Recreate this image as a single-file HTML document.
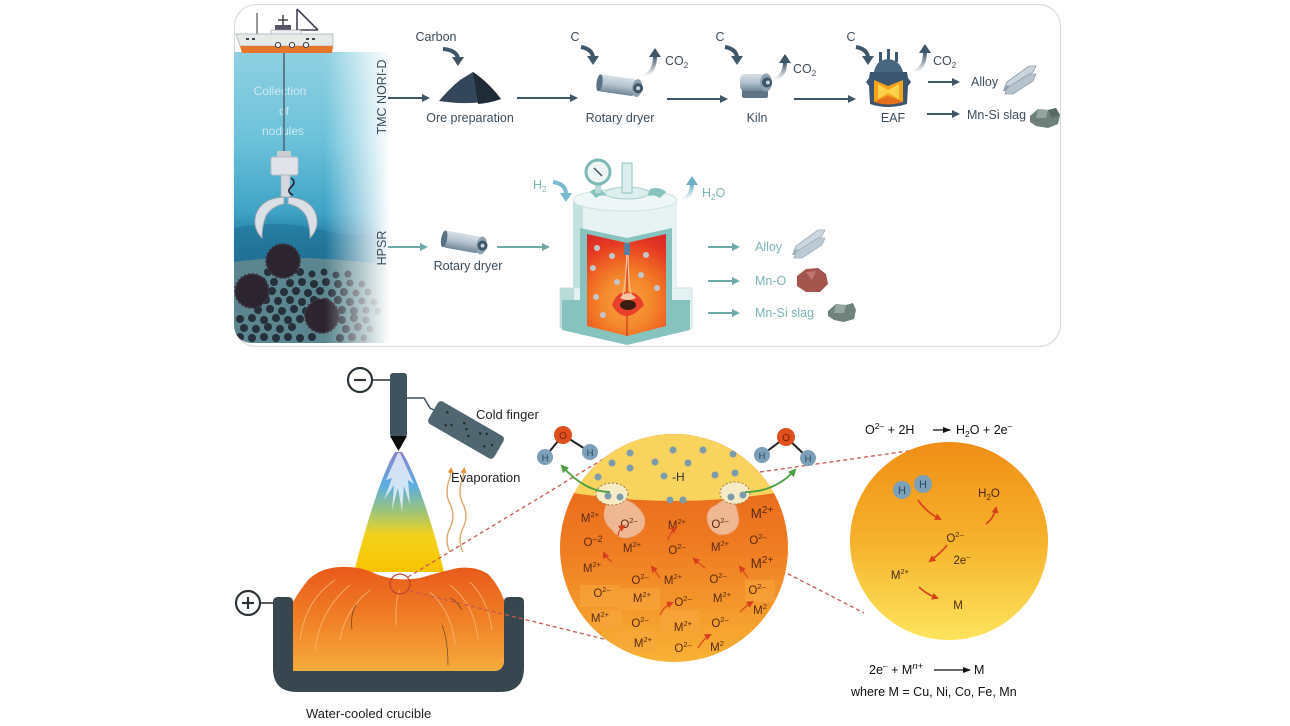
<!DOCTYPE html>
<html><head><meta charset="utf-8">
<style>
html,body{margin:0;padding:0;background:#fff;}
svg{display:block;font-family:"Liberation Sans",Arial,sans-serif;}
</style></head>
<body>
<svg width="1290" height="726" viewBox="0 0 1290 726" xmlns="http://www.w3.org/2000/svg">
<defs>
  <linearGradient id="ocean" x1="0" y1="52" x2="0" y2="343" gradientUnits="userSpaceOnUse">
    <stop offset="0" stop-color="#8fd0e2"/>
    <stop offset="0.3" stop-color="#6cc2da"/>
    <stop offset="0.55" stop-color="#3ea3c6"/>
    <stop offset="0.62" stop-color="#2a86ab"/>
    <stop offset="0.72" stop-color="#226f92"/>
    <stop offset="0.74" stop-color="#557f89"/>
    <stop offset="1" stop-color="#6a939b"/>
  </linearGradient>
  <linearGradient id="fadeR" x1="325" y1="0" x2="390" y2="0" gradientUnits="userSpaceOnUse">
    <stop offset="0" stop-color="#fff" stop-opacity="0"/>
    <stop offset="1" stop-color="#fff" stop-opacity="1"/>
  </linearGradient>
  <clipPath id="oceanClip"><path d="M234 52 H392 V343 H254 Q234 343 234 323 Z"/></clipPath>
  <linearGradient id="plasma" x1="0" y1="452" x2="0" y2="570" gradientUnits="userSpaceOnUse">
    <stop offset="0" stop-color="#8c82c6"/>
    <stop offset="0.28" stop-color="#5aaee2"/>
    <stop offset="0.5" stop-color="#9cc47a"/>
    <stop offset="0.7" stop-color="#f2d21e"/>
    <stop offset="1" stop-color="#f8c400"/>
  </linearGradient>
  <linearGradient id="melt" x1="0" y1="565" x2="0" y2="672" gradientUnits="userSpaceOnUse">
    <stop offset="0" stop-color="#e8581a"/>
    <stop offset="0.5" stop-color="#f07f26"/>
    <stop offset="1" stop-color="#f6ac3c"/>
  </linearGradient>
  <linearGradient id="midG" x1="0" y1="434" x2="0" y2="662" gradientUnits="userSpaceOnUse">
    <stop offset="0" stop-color="#e65e18"/>
    <stop offset="0.5" stop-color="#ef7c22"/>
    <stop offset="1" stop-color="#f8b234"/>
  </linearGradient>
  <linearGradient id="rightG" x1="0" y1="442" x2="0" y2="640" gradientUnits="userSpaceOnUse">
    <stop offset="0" stop-color="#f08e16"/>
    <stop offset="0.5" stop-color="#f6b22c"/>
    <stop offset="1" stop-color="#fde45c"/>
  </linearGradient>
  <clipPath id="midClip"><circle cx="674" cy="548" r="114"/></clipPath>
  <radialGradient id="core" cx="627" cy="302" r="80" gradientUnits="userSpaceOnUse">
    <stop offset="0" stop-color="#f8a040"/>
    <stop offset="0.3" stop-color="#f48a2c"/>
    <stop offset="0.5" stop-color="#f06a24"/>
    <stop offset="0.75" stop-color="#e63a22"/>
    <stop offset="1" stop-color="#d42228"/>
  </radialGradient>
  <linearGradient id="cylT" x1="0" y1="0" x2="0" y2="1">
    <stop offset="0" stop-color="#d6dfe6"/>
    <stop offset="0.5" stop-color="#b3c2ce"/>
    <stop offset="1" stop-color="#6f8596"/>
  </linearGradient>
  <linearGradient id="upFade" x1="0" y1="1" x2="0" y2="0">
    <stop offset="0" stop-color="#3e5668" stop-opacity="0"/>
    <stop offset="1" stop-color="#3e5668"/>
  </linearGradient>
  <linearGradient id="upFadeT" x1="0" y1="1" x2="0" y2="0">
    <stop offset="0" stop-color="#6fb0c4" stop-opacity="0"/>
    <stop offset="1" stop-color="#6fb0c4"/>
  </linearGradient>
  <marker id="ahD" markerWidth="8" markerHeight="8" refX="6" refY="4" orient="auto" markerUnits="userSpaceOnUse">
    <path d="M0 0 L8 4 L0 8 Z" fill="#3e5668"/>
  </marker>
  <marker id="ahT" markerWidth="8" markerHeight="8" refX="6" refY="4" orient="auto" markerUnits="userSpaceOnUse">
    <path d="M0 0 L8 4 L0 8 Z" fill="#6eaaa8"/>
  </marker>
  <marker id="ahR" markerWidth="7" markerHeight="7" refX="5" refY="3.5" orient="auto" markerUnits="userSpaceOnUse">
    <path d="M0 0 L7 3.5 L0 7 Z" fill="#d8401c"/>
  </marker>
  <marker id="ahG" markerWidth="8" markerHeight="8" refX="6" refY="4" orient="auto" markerUnits="userSpaceOnUse">
    <path d="M0 0 L8 4 L0 8 Z" fill="#4aa040"/>
  </marker>
  <marker id="ahK" markerWidth="8" markerHeight="8" refX="7" refY="4" orient="auto" markerUnits="userSpaceOnUse">
    <path d="M0 1 L8 4 L0 7 Z" fill="#111"/>
  </marker>
  <marker id="ahO" markerWidth="6" markerHeight="6" refX="3" refY="3" orient="auto" markerUnits="userSpaceOnUse">
    <path d="M0 0 L6 3 L0 6 Z" fill="#e09030"/>
  </marker>
</defs>

<!-- TOP PANEL -->
<rect x="234.5" y="4.5" width="826" height="342" rx="22" fill="#fff" stroke="#dcdcdc" stroke-width="1.2"/>

<!-- Ocean -->
<g clip-path="url(#oceanClip)">
  <rect x="234" y="52" width="160" height="292" fill="url(#ocean)"/>
  <path d="M234 228 Q280 218 330 232 Q360 238 392 232 V262 H234 Z" fill="#1f7196" opacity="0.55"/>
  <path d="M234 262 Q300 252 392 266 V344 H234 Z" fill="#5b868f"/>
  <g fill="#26303a">
    <circle cx="268" cy="272" r="4"/><circle cx="300" cy="272" r="4"/><circle cx="312" cy="274" r="3.5"/><circle cx="324" cy="272" r="3.5"/><circle cx="336" cy="275" r="3.5"/><circle cx="348" cy="274" r="3.5"/>
    <circle cx="262" cy="281" r="4"/><circle cx="274" cy="282" r="4"/><circle cx="290" cy="283" r="4"/><circle cx="302" cy="282" r="4"/><circle cx="314" cy="284" r="4"/><circle cx="326" cy="282" r="4"/><circle cx="338" cy="284" r="4"/><circle cx="350" cy="283" r="3.5"/><circle cx="362" cy="284" r="3.5"/>
    <circle cx="272" cy="291" r="4"/><circle cx="284" cy="292" r="4"/><circle cx="296" cy="291" r="4"/><circle cx="308" cy="293" r="4"/><circle cx="320" cy="291" r="4"/><circle cx="332" cy="293" r="4"/><circle cx="344" cy="292" r="4"/><circle cx="356" cy="293" r="3.5"/><circle cx="368" cy="292" r="3.5"/>
    <circle cx="266" cy="300" r="4"/><circle cx="278" cy="301" r="4"/><circle cx="290" cy="300" r="4"/><circle cx="302" cy="302" r="4"/><circle cx="314" cy="300" r="4"/><circle cx="326" cy="302" r="4"/><circle cx="338" cy="300" r="4"/><circle cx="350" cy="302" r="4"/><circle cx="362" cy="301" r="3.5"/><circle cx="374" cy="302" r="3.5"/>
    <circle cx="258" cy="310" r="4"/><circle cx="270" cy="309" r="4"/><circle cx="282" cy="311" r="4"/><circle cx="294" cy="309" r="4"/><circle cx="306" cy="311" r="4"/><circle cx="342" cy="310" r="4"/><circle cx="354" cy="311" r="4"/><circle cx="366" cy="310" r="3.5"/><circle cx="378" cy="311" r="3.5"/>
    <circle cx="240" cy="319" r="4"/><circle cx="252" cy="318" r="4"/><circle cx="264" cy="320" r="4"/><circle cx="276" cy="318" r="4"/><circle cx="288" cy="320" r="4"/><circle cx="300" cy="319" r="4"/><circle cx="342" cy="320" r="4"/><circle cx="354" cy="318" r="4"/><circle cx="366" cy="320" r="3.5"/>
    <circle cx="244" cy="328" r="4"/><circle cx="256" cy="329" r="4"/><circle cx="268" cy="327" r="4"/><circle cx="280" cy="329" r="4"/><circle cx="292" cy="327" r="4"/><circle cx="346" cy="329" r="4"/><circle cx="358" cy="327" r="4"/><circle cx="370" cy="329" r="3.5"/>
    <circle cx="240" cy="337" r="4"/><circle cx="252" cy="338" r="4"/><circle cx="264" cy="337" r="4"/><circle cx="276" cy="338" r="4"/><circle cx="288" cy="337" r="4"/><circle cx="300" cy="338" r="4"/><circle cx="312" cy="337" r="4"/><circle cx="340" cy="338" r="4"/><circle cx="352" cy="337" r="4"/><circle cx="364" cy="338" r="3.5"/>
  </g>
  <g fill="#2c2530" stroke="#3f3644" stroke-width="2" stroke-dasharray="2 2">
    <circle cx="252" cy="291" r="17"/>
    <circle cx="322" cy="316" r="17"/>
  </g>
  <rect x="325" y="52" width="69" height="292" fill="url(#fadeR)"/>
  <text x="280" y="95" font-size="12" fill="#cbeaf2" text-anchor="middle">Collection</text>
  <text x="284" y="115" font-size="12" fill="#cbeaf2" text-anchor="middle">of</text>
  <text x="283" y="135" font-size="12" fill="#cbeaf2" text-anchor="middle">nodules</text>
</g>
<!-- cable & claw -->
<line x1="284" y1="50" x2="284" y2="158" stroke="#4a5a66" stroke-width="1.4"/>
<rect x="277" y="151" width="14" height="6" fill="#c9ced5"/>
<rect x="271" y="157" width="27" height="18" rx="2" fill="#e0e4e9" stroke="#b7bfc8"/>
<rect x="281" y="175" width="9" height="22" fill="#d3d9df" stroke="#a9b3bd" stroke-width="0.8"/>
<path d="M291 178 q6 4 0 9 q-5 5 2 8" fill="none" stroke="#223" stroke-width="1.6"/>
<path d="M284 197 Q262 198 256 214 Q252 228 262 238 Q262 226 266 216 Q272 206 284 204 Z" fill="#dbe0e6" stroke="#98a3ae" stroke-width="1"/>
<path d="M288 197 Q310 198 316 214 Q320 228 310 238 Q310 226 306 216 Q300 206 288 204 Z" fill="#dbe0e6" stroke="#98a3ae" stroke-width="1"/>
<circle cx="283" cy="261" r="17" fill="#2c2530" stroke="#3f3644" stroke-width="2" stroke-dasharray="2 2"/>

<!-- Ship -->
<g>
  <line x1="257" y1="13" x2="257" y2="34" stroke="#555" stroke-width="1.2"/>
  <line x1="283" y1="15" x2="283" y2="30" stroke="#444" stroke-width="1.5"/>
  <line x1="278" y1="20" x2="288" y2="20" stroke="#444" stroke-width="1.5"/>
  <rect x="275" y="25" width="16" height="5" fill="#556"/>
  <path d="M297 9 L297 34 M297 9 L318 30 M297 30 L318 30" stroke="#445" stroke-width="1.6" fill="none"/>
  <rect x="271" y="30" width="30" height="6" fill="#eef0f2" stroke="#99a" stroke-width="0.6"/>
  <path d="M236 34 L333 34 L333 46 L240 46 Z" fill="#e6ebe8" stroke="#a8b0b8" stroke-width="0.7"/>
  <rect x="246" y="38" width="3" height="2" fill="#445"/><rect x="252" y="38" width="3" height="2" fill="#445"/>
  <rect x="306" y="38" width="3" height="2" fill="#445"/><rect x="312" y="38" width="3" height="2" fill="#445"/>
  <path d="M240 46 L333 46 L332 53 L242 53 Z" fill="#e8762a"/>
  <circle cx="278" cy="45" r="2.6" fill="#eee" stroke="#445" stroke-width="1"/>
  <circle cx="292" cy="45" r="2.6" fill="#eee" stroke="#445" stroke-width="1"/>
  <circle cx="306" cy="45" r="2.6" fill="#eee" stroke="#445" stroke-width="1"/>
</g>

<!-- vertical labels -->
<text transform="translate(386,97) rotate(-90)" font-size="12.5" fill="#3b4d5c" text-anchor="middle">TMC NORI-D</text>
<text transform="translate(386,248) rotate(-90)" font-size="12.5" fill="#3b4d5c" text-anchor="middle">HPSR</text>

<!-- TOP ROW -->
<g stroke="#3e5668" stroke-width="2" marker-end="url(#ahD)">
  <line x1="388" y1="98" x2="428" y2="98"/>
  <line x1="517" y1="98" x2="576" y2="98"/>
  <line x1="667" y1="99" x2="726" y2="99"/>
  <line x1="794" y1="99" x2="854" y2="99"/>
  <line x1="928" y1="82" x2="958" y2="82"/>
  <line x1="927" y1="114" x2="958" y2="114"/>
</g>
<g font-size="12.5" fill="#3b4d5c">
  <text x="436" y="41" text-anchor="middle">Carbon</text>
  <text x="470" y="122" text-anchor="middle">Ore preparation</text>
  <text x="575" y="41" text-anchor="middle">C</text>
  <text x="620" y="122" text-anchor="middle">Rotary dryer</text>
  <text x="720" y="41" text-anchor="middle">C</text>
  <text x="757" y="122" text-anchor="middle">Kiln</text>
  <text x="851" y="41" text-anchor="middle">C</text>
  <text x="893" y="122" text-anchor="middle">EAF</text>
  <text x="971" y="86">Alloy</text>
  <text x="967" y="119">Mn-Si slag</text>
  <text x="665" y="65">CO<tspan font-size="8" dy="3">2</tspan></text>
  <text x="793" y="73">CO<tspan font-size="8" dy="3">2</tspan></text>
  <text x="933" y="65">CO<tspan font-size="8" dy="3">2</tspan></text>
</g>
<!-- C curved down arrows -->
<g fill="none" stroke="#3e5668" stroke-width="4">
  <path d="M443 49 Q456 50 458 58"/>
  <path d="M581 47 Q592 49 593 57"/>
  <path d="M725 47 Q736 49 737 57"/>
  <path d="M856 47 Q867 49 868 57"/>
</g>
<g fill="#3e5668">
  <path d="M452 57 L464 57 L458 66 Z"/>
  <path d="M587 56 L599 56 L593 65 Z"/>
  <path d="M731 56 L743 56 L737 65 Z"/>
  <path d="M862 56 L874 56 L868 65 Z"/>
</g>
<!-- CO2 up arrows -->
<g fill="none" stroke="url(#upFade)" stroke-width="4">
  <path d="M644 76 Q655 72 655 56"/>
  <path d="M774 80 Q785 76 785 62"/>
  <path d="M914 72 Q925 68 925 52"/>
</g>
<g fill="#3e5668">
  <path d="M649 57 L661 57 L655 48 Z"/>
  <path d="M779 63 L791 63 L785 54 Z"/>
  <path d="M919 53 L931 53 L925 44 Z"/>
</g>
<!-- ore pile -->
<path d="M439 101 Q448 90 460 80 L473 72 Q488 82 501 99 Q470 106 439 101 Z" fill="#33465a"/>
<path d="M473 72 Q488 82 501 99 Q490 103 478 104 Z" fill="#1f2b37"/>
<!-- rotary dryer top -->
<g transform="translate(598,72) rotate(8)">
  <rect x="2" y="2" width="38" height="17" rx="4" fill="url(#cylT)"/>
  <ellipse cx="3" cy="10.5" rx="3" ry="8.5" fill="#5a7083"/>
  <ellipse cx="41" cy="10.5" rx="5" ry="9" fill="#8ea1b0"/>
  <circle cx="42" cy="10.5" r="5" fill="#3e5668"/>
  <circle cx="42" cy="10.5" r="2" fill="#c7d2db"/>
</g>
<!-- kiln -->
<g transform="translate(740,70)">
  <rect x="2" y="18" width="26" height="10" rx="2" fill="#5f7587"/>
  <rect x="0" y="4" width="26" height="17" rx="5" fill="url(#cylT)"/>
  <ellipse cx="26" cy="12.5" rx="6" ry="9" fill="#8ea1b0"/>
  <circle cx="27" cy="12.5" r="5" fill="#3e5668"/>
  <circle cx="28" cy="12.5" r="2" fill="#c7d2db"/>
</g>
<!-- EAF -->
<g>
  <rect x="879" y="52" width="3" height="10" fill="#3d5a72"/>
  <rect x="887" y="49" width="3" height="13" fill="#3d5a72"/>
  <rect x="895" y="52" width="3" height="10" fill="#3d5a72"/>
  <path d="M874 72 Q876 60 888 59 Q900 60 903 72 Z" fill="#4a6780"/>
  <path d="M870 72 H907 L908 78 L911 82 L908 86 L907 104 Q888 110 870 104 L869 86 L866 82 L869 78 Z" fill="#3b566e"/>
  <path d="M874 80 L888 86 L903 80 L903 102 L888 96 L874 102 Z" fill="#f5a21c"/>
  <path d="M878 84 L888 90 L899 84 L899 99 L888 93 L878 99 Z" fill="#fcd24a"/>
  <path d="M874 102 L888 96 L903 102 Q888 107 874 102 Z" fill="#e8701a"/>
</g>
<!-- alloy icon top -->
<g transform="translate(1003,64)">
  <path d="M4 18 L26 2 L33 2 L30 8 L10 22 L2 22 Z" fill="#cbd4dc" stroke="#8f9fad" stroke-width="0.8"/>
  <path d="M2 22 L10 22 L8 27 L0 27 Z" fill="#8f9fad"/>
  <path d="M4 24 L26 10 L33 10 L30 17 L10 30 L2 30 Z" fill="#b6c2cc" stroke="#8f9fad" stroke-width="0.8"/>
</g>
<!-- slag icon top -->
<g transform="translate(1028,106)">
  <path d="M2 10 L10 3 L20 4 L28 2 L32 9 L30 18 L20 22 L8 20 L2 16 Z" fill="#6c7f78"/>
  <path d="M10 3 L20 4 L18 12 L8 12 Z" fill="#93a49c"/>
  <path d="M20 4 L28 2 L32 9 L24 12 Z" fill="#58695f"/>
</g>

<!-- HPSR ROW -->
<g stroke="#6eaaa8" stroke-width="2" marker-end="url(#ahT)">
  <line x1="388" y1="247" x2="426" y2="247"/>
  <line x1="497" y1="247" x2="548" y2="247"/>
  <line x1="708" y1="247" x2="738" y2="247"/>
  <line x1="708" y1="281" x2="738" y2="281"/>
  <line x1="708" y1="313" x2="738" y2="313"/>
</g>
<g font-size="12.5" fill="#7db4b4">
  <text x="755" y="251">Alloy</text>
  <text x="755" y="285">Mn-O</text>
  <text x="755" y="317">Mn-Si slag</text>
  <text x="533" y="189">H<tspan font-size="8" dy="3">2</tspan></text>
  <text x="702" y="197">H<tspan font-size="8" dy="3">2</tspan><tspan dy="-3">O</tspan></text>
</g>
<text x="468" y="270" font-size="12.5" fill="#3b4d5c" text-anchor="middle">Rotary dryer</text>
<text x="626" y="341" font-size="12.5" fill="#3b4d5c" text-anchor="middle">HPSR</text>
<!-- rotary dryer HPSR -->
<g transform="translate(443,228) rotate(10)">
  <rect x="2" y="2" width="38" height="17" rx="4" fill="url(#cylT)"/>
  <ellipse cx="3" cy="10.5" rx="3" ry="8.5" fill="#5a7083"/>
  <ellipse cx="41" cy="10.5" rx="5" ry="9" fill="#8ea1b0"/>
  <circle cx="42" cy="10.5" r="5" fill="#3e5668"/>
  <circle cx="42" cy="10.5" r="2" fill="#c7d2db"/>
</g>
<!-- H2 in / H2O out arrows -->
<path d="M553 182 Q566 184 566 194" fill="none" stroke="#7bbbd0" stroke-width="4"/>
<path d="M560 193 L572 193 L566 202 Z" fill="#7bbbd0"/>
<path d="M682 200 Q692 196 692 184" fill="none" stroke="url(#upFadeT)" stroke-width="4"/>
<path d="M686 185 L698 185 L692 176 Z" fill="#6fb0c4"/>
<!-- reactor -->
<g>
  <path d="M560 288 H692 V328 Q626 342 560 328 Z" fill="#e4f2f1" stroke="#cfe3e2"/>
  <path d="M560 288 H574 V330 Q566 329 560 328 Z" fill="#b9dcd9"/>
  <path d="M573 200 H677 V288 H573 Z" fill="#e6f3f2"/>
  <path d="M573 200 H583 V288 H573 Z" fill="#c3e1de"/>
  <ellipse cx="625" cy="200" rx="52" ry="11" fill="#eef7f6" stroke="#cfe3e2"/>
  <ellipse cx="627" cy="193" rx="22" ry="6" fill="#dceeed" stroke="#a8d0cd"/>
  <path d="M650 189 Q660 186 666 192 L660 198 Q654 194 648 196 Z" fill="#86c3bf"/>
  <path d="M603 191 Q596 186 590 192 L596 198 Q600 194 606 196 Z" fill="#86c3bf"/>
  <rect x="622" y="163" width="10" height="30" fill="#dbeeed" stroke="#8fc4c1"/>
  <rect x="595" y="183" width="6" height="10" fill="#b5d9d6"/>
  <circle cx="598" cy="172" r="12" fill="#eef7f6" stroke="#7fb9b6" stroke-width="3"/>
  <line x1="594" y1="168" x2="602" y2="176" stroke="#3e5668" stroke-width="1.5"/>
  <path d="M580 228 L627 238 L672 228 L672 300 L690 300 L690 330 L627 345 L562 330 L562 300 L580 300 Z" fill="#86c3bf"/>
  <path d="M587 234 L627 243 L666 234 L666 326 L627 336 L587 326 Z" fill="url(#core)"/>
  <line x1="627" y1="243" x2="627" y2="336" stroke="#c02820" stroke-width="1"/>
  <path d="M612 305 Q616 292 627 292 Q640 292 644 305 Q634 316 627 316 Q618 316 612 305 Z" fill="#e8402a"/>
  <ellipse cx="628" cy="305" rx="8" ry="5" fill="#3a1c12"/>
  <path d="M622 298 Q626 286 627 250 M632 298 Q628 286 628 250" stroke="#f4c7a0" stroke-width="1.2" fill="none"/>
  <path d="M620 298 Q628 288 636 298 Q628 302 620 298 Z" fill="#f2c6a0"/>
  <rect x="624" y="243" width="6" height="12" fill="#5a7fa0"/>
  <g fill="#c4c6cc">
    <circle cx="597" cy="248" r="3"/><circle cx="612" cy="256" r="3"/><circle cx="593" cy="268" r="3"/><circle cx="617" cy="282" r="3"/><circle cx="596" cy="297" r="3"/><circle cx="646" cy="255" r="3"/><circle cx="641" cy="275" r="3"/><circle cx="657" cy="288" r="3"/><circle cx="603" cy="315" r="3"/>
  </g>
</g>
<!-- alloy icon HPSR -->
<g transform="translate(792,228)">
  <path d="M4 18 L26 2 L33 2 L30 8 L10 22 L2 22 Z" fill="#cbd6df" stroke="#9fb0bd" stroke-width="0.8"/>
  <path d="M2 22 L10 22 L8 27 L0 27 Z" fill="#9fb0bd"/>
  <path d="M4 24 L26 10 L33 10 L30 17 L10 30 L2 30 Z" fill="#bccad5" stroke="#9fb0bd" stroke-width="0.8"/>
</g>
<path d="M797 276 L806 269 L818 268 L826 274 L828 284 L820 292 L806 292 L797 286 Z" fill="#a4554e"/>
<path d="M806 272 L816 271 L812 280 Z" fill="#c07870"/>
<g transform="translate(826,301)">
  <path d="M2 10 L10 3 L20 4 L27 2 L30 9 L28 18 L18 21 L8 19 L2 15 Z" fill="#6f827b"/>
  <path d="M10 3 L20 4 L18 12 L8 12 Z" fill="#96a79f"/>
</g>

<!-- BOTTOM LEFT -->
<circle cx="360" cy="380" r="12" fill="#fff" stroke="#2b3338" stroke-width="2.2"/>
<line x1="354" y1="380" x2="366" y2="380" stroke="#2b3338" stroke-width="2.2"/>
<line x1="372" y1="380" x2="390" y2="380" stroke="#2b3338" stroke-width="1.6"/>
<rect x="390" y="373" width="17" height="64" rx="3" fill="#3f535e"/>
<path d="M390 436 L407 436 L398.5 451 Z" fill="#0c0c0c"/>
<path d="M407 398 H424 L430 408 L434 410" fill="none" stroke="#3f535e" stroke-width="1.5"/>
<g transform="translate(466,430) rotate(30)">
  <rect x="-38" y="-13" width="76" height="26" rx="4" fill="#506671"/>
  <g fill="#1d2a30">
    <circle cx="-25" cy="-6" r="1.2"/><circle cx="-15" cy="3" r="1.2"/><circle cx="-5" cy="-5" r="1.2"/><circle cx="5" cy="4" r="1.2"/><circle cx="14" cy="-4" r="1.2"/><circle cx="24" cy="5" r="1.2"/><circle cx="-20" cy="6" r="1.2"/><circle cx="0" cy="-1" r="1.2"/><circle cx="20" cy="-7" r="1.2"/><circle cx="30" cy="0" r="1.2"/>
  </g>
</g>
<text x="476" y="419" font-size="13" fill="#222">Cold finger</text>
<!-- plasma -->
<path d="M395 452 C384 470 370 510 354 572 L444 572 C432 520 414 470 402 452 Z" fill="url(#plasma)"/>
<g fill="#e6eefa" opacity="0.85">
  <path d="M398 453 L386 480 L392 478 L384 500 L394 485 L392 510 L398 488 L402 512 L404 486 L410 505 L408 480 L414 484 L400 453 Z"/>
</g>
<!-- evaporation -->
<path d="M450 552 Q444 540 450 528 Q456 516 450 504 Q444 492 450 478 L451 470" fill="none" stroke="#d9a86a" stroke-width="1.4" marker-end="url(#ahO)"/>
<path d="M463 552 Q457 540 463 528 Q469 516 463 504 Q457 492 463 478 L464 470" fill="none" stroke="#d9a86a" stroke-width="1.4" marker-end="url(#ahO)"/>
<text x="451" y="482" font-size="13" fill="#222">Evaporation</text>
<!-- crucible -->
<path d="M273 602 Q273 597 278 597 H288 Q293 597 293 602 V660 Q293 671 304 671 H493 Q504 671 504 660 V602 Q504 597 509 597 H519 Q524 597 524 602 V668 Q524 692 500 692 H297 Q273 692 273 668 Z" fill="#38474f"/>
<path d="M293 671 V602 Q300 590 308 580 Q320 568 340 567 Q360 566 376 574 Q396 582 420 578 Q440 572 458 568 Q476 566 488 574 Q498 584 504 600 V660 Q504 671 493 671 Z" fill="url(#melt)"/>
<g fill="none" stroke="#f8c080" stroke-width="0.9" opacity="0.8">
  <path d="M300 640 Q305 600 335 580"/><path d="M315 650 Q320 610 350 585"/><path d="M340 640 Q345 610 370 590"/>
  <path d="M478 640 Q475 605 450 585"/><path d="M492 630 Q488 600 470 582"/><path d="M455 645 Q452 612 430 592"/>
  <path d="M396 625 Q395 600 400 590"/>
</g>
<g fill="none" stroke="#4a3020" stroke-width="0.8" opacity="0.7">
  <path d="M352 630 Q350 615 356 605"/><path d="M448 665 Q448 640 442 625"/><path d="M462 610 Q456 600 450 598"/>
</g>
<circle cx="248" cy="603" r="12" fill="#fff" stroke="#2b3338" stroke-width="2.2"/>
<line x1="242" y1="603" x2="254" y2="603" stroke="#2b3338" stroke-width="2.2"/>
<line x1="248" y1="597" x2="248" y2="609" stroke="#2b3338" stroke-width="2.2"/>
<line x1="260" y1="603" x2="273" y2="603" stroke="#2b3338" stroke-width="1.6"/>
<circle cx="400" cy="584" r="10" fill="none" stroke="#c0442c" stroke-width="1.2"/>
<text x="306" y="718" font-size="13" fill="#222">Water-cooled crucible</text>

<!-- dashed connectors -->
<g stroke="#c65a4e" stroke-width="1.3" stroke-dasharray="4 3" fill="none">
  <line x1="408" y1="577" x2="610" y2="455"/>
  <line x1="410" y1="591" x2="608" y2="640"/>
  <line x1="760" y1="472" x2="915" y2="450"/>
  <line x1="738" y1="548" x2="864" y2="613"/>
</g>

<!-- MIDDLE CIRCLE -->
<g clip-path="url(#midClip)">
  <rect x="558" y="432" width="232" height="232" fill="url(#midG)"/>
  <path d="M556 430 H792 V490 Q674 512 556 490 Z" fill="#f8d35e"/>
  <g fill="#f7a840" opacity="0.55">
    <rect x="580" y="585" width="40" height="22"/><rect x="592" y="610" width="30" height="18"/><rect x="620" y="588" width="40" height="22"/><rect x="615" y="630" width="40" height="22"/><rect x="660" y="610" width="40" height="20"/><rect x="745" y="580" width="30" height="22"/>
  </g>
  <g fill="#7d9cab">
    <circle cx="630" cy="453" r="3.5"/><circle cx="673" cy="450" r="3.5"/><circle cx="703" cy="450" r="3.5"/><circle cx="733" cy="454" r="3.5"/>
    <circle cx="612" cy="463" r="3.5"/><circle cx="655" cy="462" r="3.5"/><circle cx="688" cy="463" r="3.5"/><circle cx="630" cy="468" r="3.5"/>
    <circle cx="715" cy="475" r="3.5"/><circle cx="735" cy="473" r="3.5"/><circle cx="598" cy="477" r="3.5"/><circle cx="664" cy="476" r="3.5"/>
    <circle cx="670" cy="500" r="3.5"/><circle cx="683" cy="500" r="3.5"/>
  </g>
  <text x="672" y="481" font-size="12" fill="#333">-H</text>
  <path d="M606 505 Q600 520 612 530 Q620 542 634 536 Q648 530 644 516 Q638 504 626 500 Z" fill="#f0b892" stroke="#e89a70" stroke-dasharray="2 2"/>
  <path d="M716 505 Q704 510 708 524 Q714 538 728 534 Q742 528 738 514 Q736 500 726 498 Z" fill="#f0b892" stroke="#e89a70" stroke-dasharray="2 2"/>
  <ellipse cx="612" cy="494" rx="16" ry="11" fill="#f6ebc4" stroke="#a07850" stroke-dasharray="2 2"/>
  <ellipse cx="735" cy="493" rx="15" ry="11" fill="#f6ebc4" stroke="#a07850" stroke-dasharray="2 2"/>
  <circle cx="608" cy="496" r="3.5" fill="#7d9cab"/><circle cx="620" cy="497" r="3.5" fill="#7d9cab"/>
  <circle cx="731" cy="497" r="3.5" fill="#7d9cab"/><circle cx="743" cy="495" r="3.5" fill="#7d9cab"/>
  <g font-size="11.5" fill="#5a2a12" text-anchor="middle">
    <text x="590" y="522">M<tspan font-size="7.5" dy="-5">2+</tspan></text>
    <text x="629" y="528">O<tspan font-size="7.5" dy="-5">2–</tspan></text>
    <text x="677" y="529">M<tspan font-size="7.5" dy="-5">2+</tspan></text>
    <text x="720" y="528">O<tspan font-size="7.5" dy="-5">2–</tspan></text>
    <text x="762" y="518" font-size="13.5">M<tspan font-size="10" dy="-5">2+</tspan></text>
    <text x="593" y="546">O<tspan font-size="9" dy="-4">–2</tspan></text>
    <text x="632" y="552">M<tspan font-size="7.5" dy="-5">2+</tspan></text>
    <text x="677" y="554">O<tspan font-size="7.5" dy="-5">2–</tspan></text>
    <text x="720" y="551">M<tspan font-size="7.5" dy="-5">2+</tspan></text>
    <text x="758" y="544">O<tspan font-size="7.5" dy="-5">2–</tspan></text>
    <text x="592" y="572">M<tspan font-size="7.5" dy="-5">2+</tspan></text>
    <text x="762" y="568" font-size="13.5">M<tspan font-size="10" dy="-5">2+</tspan></text>
    <text x="640" y="584">O<tspan font-size="7.5" dy="-5">2–</tspan></text>
    <text x="673" y="584">M<tspan font-size="7.5" dy="-5">2+</tspan></text>
    <text x="718" y="583">O<tspan font-size="7.5" dy="-5">2–</tspan></text>
    <text x="757" y="594">O<tspan font-size="7.5" dy="-5">2–</tspan></text>
    <text x="602" y="597">O<tspan font-size="7.5" dy="-5">2–</tspan></text>
    <text x="642" y="602">M<tspan font-size="7.5" dy="-5">2+</tspan></text>
    <text x="683" y="606">O<tspan font-size="7.5" dy="-5">2–</tspan></text>
    <text x="722" y="602">M<tspan font-size="7.5" dy="-5">2+</tspan></text>
    <text x="760" y="614">M<tspan font-size="7.5" dy="-5">2</tspan></text>
    <text x="600" y="622">M<tspan font-size="7.5" dy="-5">2+</tspan></text>
    <text x="640" y="627">O<tspan font-size="7.5" dy="-5">2–</tspan></text>
    <text x="683" y="631">M<tspan font-size="7.5" dy="-5">2+</tspan></text>
    <text x="720" y="627">O<tspan font-size="7.5" dy="-5">2–</tspan></text>
    <text x="643" y="647">M<tspan font-size="7.5" dy="-5">2+</tspan></text>
    <text x="683" y="652">O<tspan font-size="7.5" dy="-5">2–</tspan></text>
    <text x="717" y="651">M<tspan font-size="7.5" dy="-5">2</tspan></text>
  </g>
  <g fill="none" stroke="#d8401c" stroke-width="1.1" marker-end="url(#ahR)">
    <path d="M618 536 Q618 530 624 526"/>
    <path d="M612 562 Q606 558 604 553"/>
    <path d="M668 540 Q670 532 676 528"/>
    <path d="M660 578 Q656 572 652 567"/>
    <path d="M705 568 Q700 564 694 559"/>
    <path d="M660 615 Q664 606 672 603"/>
    <path d="M748 578 Q744 572 740 567"/>
    <path d="M740 612 Q746 606 752 602"/>
    <path d="M698 648 Q704 638 710 635"/>
  </g>
</g>
<!-- water molecules -->
<g>
  <line x1="563" y1="435" x2="545" y2="457" stroke="#222" stroke-width="2"/>
  <line x1="563" y1="435" x2="590" y2="452" stroke="#222" stroke-width="2"/>
  <circle cx="563" cy="435" r="9" fill="#e0501e"/>
  <text x="563" y="439" font-size="10" fill="#7a2000" text-anchor="middle">O</text>
  <circle cx="545" cy="457" r="8" fill="#7ba0b8"/>
  <text x="545" y="461" font-size="9.5" fill="#2e4a5e" text-anchor="middle">H</text>
  <circle cx="590" cy="452" r="8" fill="#7ba0b8"/>
  <text x="590" y="456" font-size="9.5" fill="#2e4a5e" text-anchor="middle">H</text>
  <line x1="786" y1="437" x2="762" y2="455" stroke="#222" stroke-width="2"/>
  <line x1="786" y1="437" x2="808" y2="458" stroke="#222" stroke-width="2"/>
  <circle cx="786" cy="437" r="9" fill="#e0501e"/>
  <text x="786" y="441" font-size="10" fill="#7a2000" text-anchor="middle">O</text>
  <circle cx="762" cy="455" r="8" fill="#7ba0b8"/>
  <text x="762" y="459" font-size="9.5" fill="#2e4a5e" text-anchor="middle">H</text>
  <circle cx="808" cy="458" r="8" fill="#7ba0b8"/>
  <text x="808" y="462" font-size="9.5" fill="#2e4a5e" text-anchor="middle">H</text>
</g>
<path d="M610 492 Q585 492 562 466" fill="none" stroke="#4aa040" stroke-width="1.8" marker-end="url(#ahG)"/>
<path d="M745 492 Q775 492 795 470" fill="none" stroke="#4aa040" stroke-width="1.8" marker-end="url(#ahG)"/>

<!-- RIGHT CIRCLE -->
<circle cx="949" cy="541" r="99" fill="url(#rightG)"/>
<circle cx="902" cy="490" r="9" fill="#7ba0b8"/>
<text x="902" y="494" font-size="11" fill="#2e4a5e" text-anchor="middle">H</text>
<circle cx="923" cy="484" r="9" fill="#7ba0b8"/>
<text x="923" y="488" font-size="11" fill="#2e4a5e" text-anchor="middle">H</text>
<g font-size="11.5" fill="#4a2a14" text-anchor="middle">
  <text x="989" y="497">H<tspan font-size="8" dy="3">2</tspan><tspan dy="-3">O</tspan></text>
  <text x="955" y="542">O<tspan font-size="7.5" dy="-5">2–</tspan></text>
  <text x="962" y="564">2e<tspan font-size="7.5" dy="-5">–</tspan></text>
  <text x="900" y="579">M<tspan font-size="7.5" dy="-5">2+</tspan></text>
  <text x="958" y="609">M</text>
</g>
<g fill="none" stroke="#d8401c" stroke-width="1.6" marker-end="url(#ahR)">
  <path d="M918 500 Q926 512 940 519"/>
  <path d="M986 524 Q994 518 996 508"/>
  <path d="M947 545 Q942 552 930 561"/>
  <path d="M919 587 Q926 594 937 598"/>
</g>

<!-- Equations -->
<g font-size="12.5" fill="#111">
  <text x="865" y="434">O<tspan font-size="8.5" dy="-5">2–</tspan><tspan dy="5"> + 2H</tspan></text>
  <line x1="933" y1="430" x2="950" y2="430" stroke="#111" stroke-width="1.3" marker-end="url(#ahK)"/>
  <text x="956" y="434">H<tspan font-size="8.5" dy="3">2</tspan><tspan dy="-3">O + 2e</tspan><tspan font-size="8.5" dy="-5">–</tspan></text>
  <text x="869" y="674">2e<tspan font-size="8.5" dy="-5">–</tspan><tspan dy="5"> + M</tspan><tspan font-size="9.5" dy="-5" font-style="italic">n+</tspan></text>
  <line x1="934" y1="670" x2="970" y2="670" stroke="#111" stroke-width="1.2" marker-end="url(#ahK)"/>
  <text x="974" y="674">M</text>
  <text x="851" y="696">where M = Cu, Ni, Co, Fe, Mn</text>
</g>
</svg>
</body></html>
